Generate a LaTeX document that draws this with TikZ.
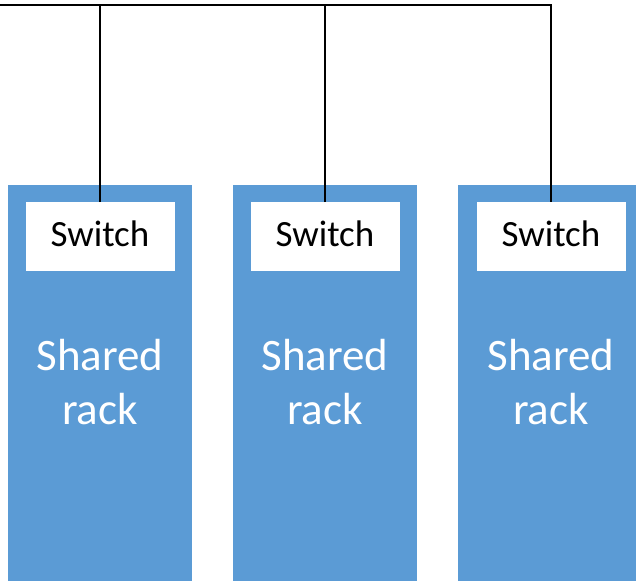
\documentclass[tikz,border=0pt]{standalone}
\usepackage{fontspec}
\setmainfont{Carlito}
\definecolor{rackblue}{HTML}{5B9BD5}

\begin{document}
\begin{tikzpicture}[x=1pt, y=-1pt,
    rack/.style={fill=rackblue, inner sep=0, minimum width=184pt, minimum height=400pt, anchor=north west},
    switchbox/.style={fill=white, inner sep=0, minimum width=149pt, minimum height=69pt, anchor=north,
      font=\fontsize{37}{44}\selectfont, text height=25pt, text depth=6pt},
    racklabel/.style={text=white, align=center, anchor=base, font=\fontsize{45}{54}\selectfont},
    wire/.style={line width=2pt}]
      \clip (0,0) rectangle (636,580);
      \node[rack] (rack1) at (8,185) {};
      \node[rack] (rack2) at (233,185) {};
      \node[rack] (rack3) at (458,185) {};
      \node[switchbox] (sw1) at (100,202) {Switch};
      \node[switchbox] (sw2) at (325,202) {Switch};
      \node[switchbox] (sw3) at (551,202) {Switch};
      \node[racklabel] (lab1) at (100,424) {Shared\\rack};
      \node[racklabel] (lab2) at (325,424) {Shared\\rack};
      \node[racklabel] (lab3) at (551,424) {Shared\\rack};
      \coordinate (bus) at (0,5);
      \draw[wire] (bus) -| (sw3.north);
      \draw[wire] (sw1.north) -- (sw1.north |- bus);
      \draw[wire] (sw2.north) -- (sw2.north |- bus);
    \end{tikzpicture}
\end{document}
